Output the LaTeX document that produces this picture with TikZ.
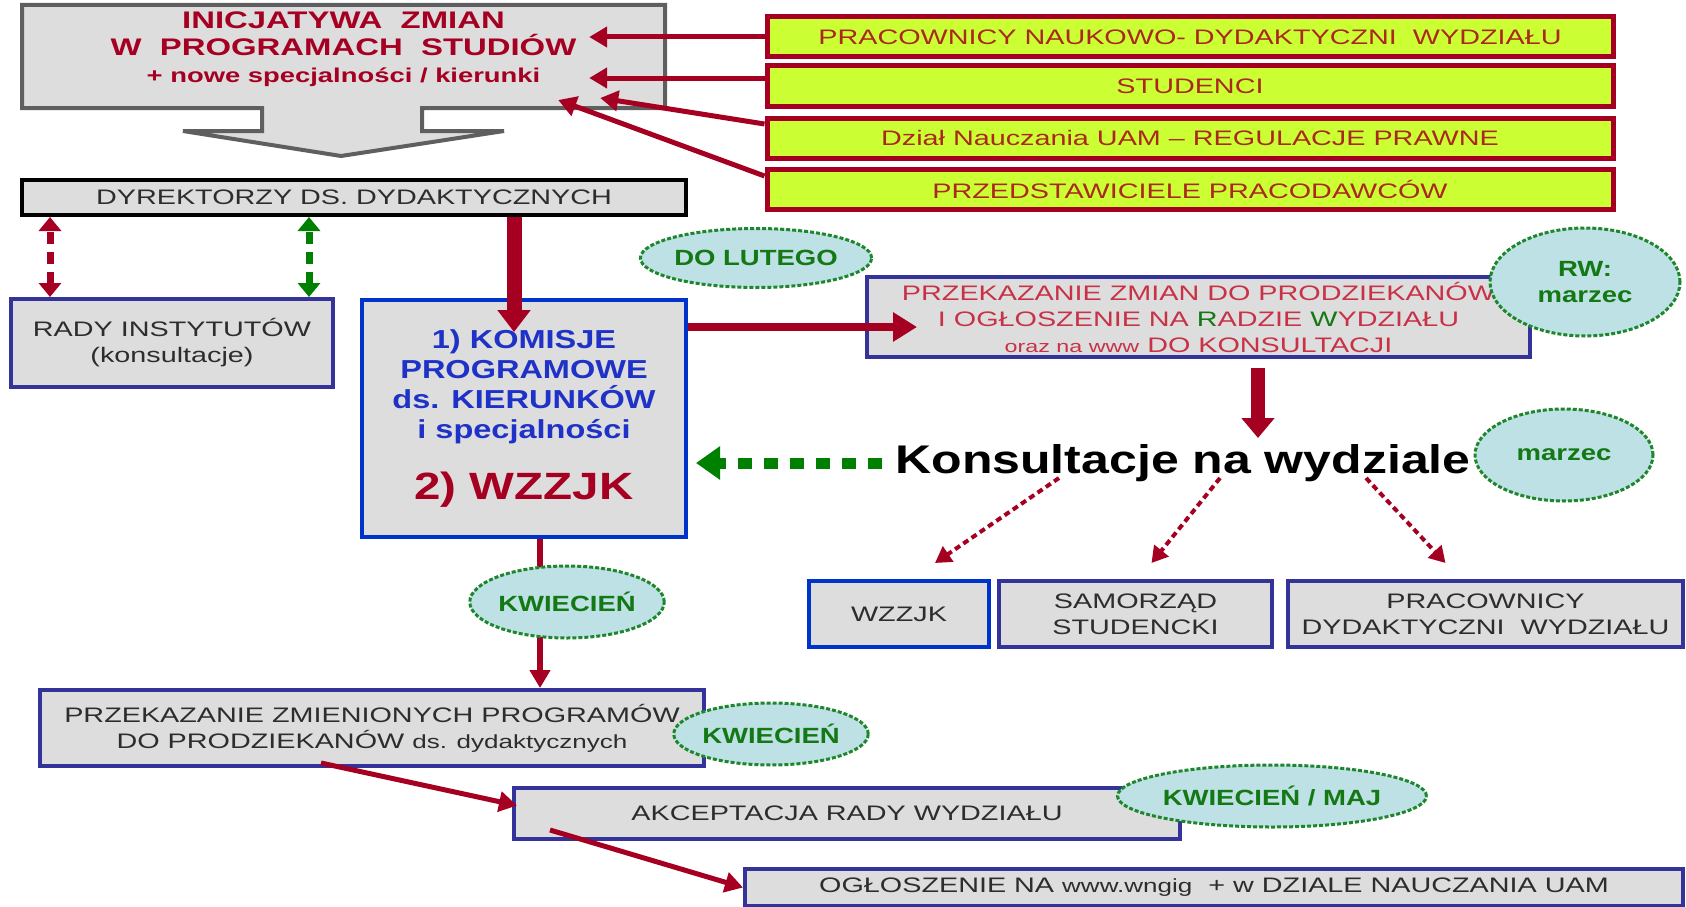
\documentclass[tikz,border=0pt]{standalone}
\usepackage{fontspec}
\setmainfont{Liberation Sans}[FakeStretch=1.25]
\newfontfamily\wideface{Liberation Sans}[FakeStretch=1.37,Ligatures=TeX]
\usetikzlibrary{arrows.meta,shapes.geometric,calc}
\definecolor{boxgrey}{RGB}{221,221,221}
\definecolor{rimgrey}{RGB}{95,95,95}
\definecolor{navyline}{RGB}{51,51,153}
\definecolor{blueline}{RGB}{0,51,204}
\definecolor{wine}{RGB}{165,0,33}
\definecolor{rust}{RGB}{170,40,30}
\definecolor{lime}{RGB}{204,255,51}
\definecolor{ovalfill}{RGB}{189,225,229}
\definecolor{ovalline}{RGB}{30,135,45}
\definecolor{ovaltext}{RGB}{20,120,20}
\definecolor{ink}{RGB}{45,45,45}
\definecolor{rosered}{RGB}{200,50,70}
\definecolor{kblue}{RGB}{30,50,200}
\definecolor{dashgreen}{RGB}{0,128,0}

\tikzset{
  greybox/.style={draw=navyline,line width=4pt,fill=boxgrey,inner sep=0pt,align=center,
    text=ink,font=\wideface\fontsize{21}{26}\selectfont},
  limebox/.style={draw=wine,line width=5pt,fill=lime,minimum width=846pt,minimum height=40pt,
    inner sep=0pt,text=rust,font=\wideface\fontsize{21}{26}\selectfont},
  oval/.style={ellipse,draw=ovalline,line width=3pt,dash pattern=on 4pt off 2pt,fill=ovalfill,
    inner sep=0pt,align=center,text=ovaltext,font=\bfseries\fontsize{22}{26}\selectfont},
  winearrow/.style={draw=wine,line width=5pt,-{Triangle[length=18pt,width=20pt]}},
  winedash/.style={draw=wine,line width=7pt,dash pattern=on 12pt off 8pt,
    {Triangle[length=14pt,width=22pt]}-{Triangle[length=14pt,width=22pt]}},
  greendash/.style={draw=dashgreen,line width=7pt,dash pattern=on 12pt off 8pt,
    {Triangle[length=14pt,width=22pt]}-{Triangle[length=14pt,width=22pt]}},
  winedots/.style={draw=wine,line width=4pt,dash pattern=on 6pt off 4pt,
    -{Triangle[length=16pt,width=18pt]}},
}

\begin{document}
\begin{tikzpicture}[x=1pt,y=-1pt]
\useasboundingbox (0,0) rectangle (1686,907);

% inicjatywa z grotem w dol
\draw[fill=boxgrey,draw=rimgrey,line width=4pt,line join=miter]
  (22,5) -- (665,5) -- (665,108) -- (422,108) -- (422,131) -- (504,131) -- (341,156)
  -- (183,131) -- (262,131) -- (262,108) -- (22,108) -- cycle;
\node[minimum width=643pt,align=center,text=wine,font=\wideface\bfseries\fontsize{24}{27}\selectfont]
  (inicjatywa) at (343.5,49) {INICJATYWA~ ZMIAN\\W~ PROGRAMACH~ STUDIÓW\\
  {\fontsize{20}{24}\selectfont + nowe specjalności / kierunki}};

% zrodla zmian
\node[limebox] (pracownicy) at (1190,37) {PRACOWNICY NAUKOWO- DYDAKTYCZNI~ WYDZIAŁU};
\node[limebox] (studenci) at (1190,86) {STUDENCI};
\node[limebox] (dzial) at (1190,138) {Dział Nauczania UAM – REGULACJE PRAWNE};
\node[limebox] (pracodawcy) at (1190,189) {PRZEDSTAWICIELE PRACODAWCÓW};

\draw[winearrow] (pracownicy.west) -- ([xshift=-76pt,yshift=12pt]inicjatywa.east);
\draw[winearrow] ([yshift=8pt]studenci.west) -- ([xshift=-76pt,yshift=-29pt]inicjatywa.east);
\draw[winearrow] ([yshift=14pt]dzial.west) -- ([xshift=-65pt,yshift=-49pt]inicjatywa.east);
\draw[winearrow] ([yshift=13pt]pracodawcy.west) -- ([xshift=-107pt,yshift=-51pt]inicjatywa.east);

% dyrektorzy i rady
\node[greybox,draw=black,minimum width=664pt,minimum height=35pt] (dyrektorzy) at (354,197.5)
  {DYREKTORZY DS. DYDAKTYCZNYCH};
\node[greybox,minimum width=322pt,minimum height=88pt] (rady) at (172,343)
  {RADY INSTYTUTÓW\\(konsultacje)};
\draw[winedash] ([xshift=-122pt]rady.north) -- ([xshift=-122pt]rady.north |- dyrektorzy.south);
\draw[greendash] ([xshift=137pt]rady.north) -- ([xshift=137pt]rady.north |- dyrektorzy.south);

% komisje
\node[greybox,draw=blueline,minimum width=324pt,minimum height=237pt,text=kblue,
  font=\bfseries\fontsize{26}{30}\selectfont] (komisje) at (524,418.5)
  {1) KOMISJE\\PROGRAMOWE\\ds. KIERUNKÓW\\i specjalności\\[28pt]
  {\color{wine}\fontsize{38}{40}\selectfont 2) WZZJK}};
\draw[wine,line width=15pt,-{Triangle[length=22pt,width=32pt]}]
  ([xshift=-10pt]komisje.north |- dyrektorzy.south) -- ([xshift=-10pt,yshift=-34pt]komisje.north);

\node[oval,minimum width=188pt,minimum height=59pt] (dolutego) at (756,258) {DO LUTEGO};

% przekazanie do prodziekanow
\node[greybox,minimum width=663pt,minimum height=80pt,text=rosered] (przekazanie) at (1198.5,317)
  {PRZEKAZANIE ZMIAN DO PRODZIEKANÓW\\I OGŁOSZENIE NA {\color{ovaltext}R}ADZIE {\color{ovaltext}W}YDZIAŁU\\
  {\fontsize{17}{20}\selectfont oraz na www} DO KONSULTACJI};
\node[oval,minimum width=190pt,minimum height=108pt] (rwmarzec) at (1585,282) {RW:\\marzec};
\draw[wine,line width=8pt,-{Triangle[length=24pt,width=28pt]}]
  ([yshift=-10pt]przekazanie.west -| komisje.east) -- ([xshift=52pt,yshift=-10pt]przekazanie.west);

% konsultacje
\node[inner sep=0pt,font=\bfseries\fontsize{40}{44}\selectfont] (konsultacje) at (1183,463)
  {Konsultacje na wydziale};
\draw[wine,line width=14pt,-{Triangle[length=20pt,width=32pt]}]
  ([xshift=59.5pt,yshift=-9pt]przekazanie.south) -- ++(0,70);
\draw[draw=dashgreen,line width=11pt,dash pattern=on 14pt off 12pt,-{Triangle[length=24pt,width=32pt]}]
  ([xshift=-13pt]konsultacje.west) -- ([xshift=8pt]komisje.east |- konsultacje.west);
\node[oval,minimum width=178pt,minimum height=92pt] (marzec) at (1564,455) {marzec};

\node[greybox,draw=blueline,minimum width=180pt,minimum height=66pt] (wzzjk) at (899,614) {WZZJK};
\node[greybox,minimum width=273pt,minimum height=66pt] (samorzad) at (1135.5,614)
  {SAMORZĄD\\STUDENCKI};
\node[greybox,minimum width=395pt,minimum height=66pt] (dydaktyczni) at (1485.5,614)
  {PRACOWNICY\\DYDAKTYCZNI~ WYDZIAŁU};
\draw[winedots] ($(konsultacje.center)+(-124,15)$) -- ($(wzzjk.north)+(36,-16)$);
\draw[winedots] ($(konsultacje.center)+(37,15)$) -- ($(samorzad.north)+(16,-16)$);
\draw[winedots] ($(konsultacje.center)+(183,15)$) -- ($(dydaktyczni.north)+(-40,-16)$);

% dalszy tok
\node[greybox,minimum width=664pt,minimum height=76pt] (zmienione) at (372,728)
  {PRZEKAZANIE ZMIENIONYCH PROGRAMÓW\\DO PRODZIEKANÓW {\fontsize{19}{22}\selectfont ds. dydaktycznych}};
\draw[winearrow,line width=6pt] ([xshift=16pt]komisje.south) -- ([xshift=16pt]komisje.south |- zmienione.north);
\node[oval,minimum width=166pt,minimum height=72pt] (kwiecien) at (567,602) {KWIECIEŃ};
\node[oval,minimum width=168pt,minimum height=62pt] (kwiecienb) at (771,734) {KWIECIEŃ};

\node[greybox,minimum width=666pt,minimum height=51pt] (akceptacja) at (847,813.5)
  {AKCEPTACJA RADY WYDZIAŁU};
\node[oval,minimum width=274pt,minimum height=62pt] (kwiecienmaj) at (1272,796) {KWIECIEŃ / MAJ};
\node[greybox,minimum width=938pt,minimum height=37pt] (ogloszenie) at (1214,887.5)
  {OGŁOSZENIE NA {\fontsize{19}{22}\selectfont www.wngig}~ + w DZIALE NAUCZANIA UAM};

\draw[winearrow] ($(zmienione.south west)+(283,-5)$) -- ($(akceptacja.west)+(5,-8)$);
\draw[winearrow] ($(akceptacja.south west)+(38,-11)$) -- (ogloszenie.west);
\end{tikzpicture}
\end{document}
